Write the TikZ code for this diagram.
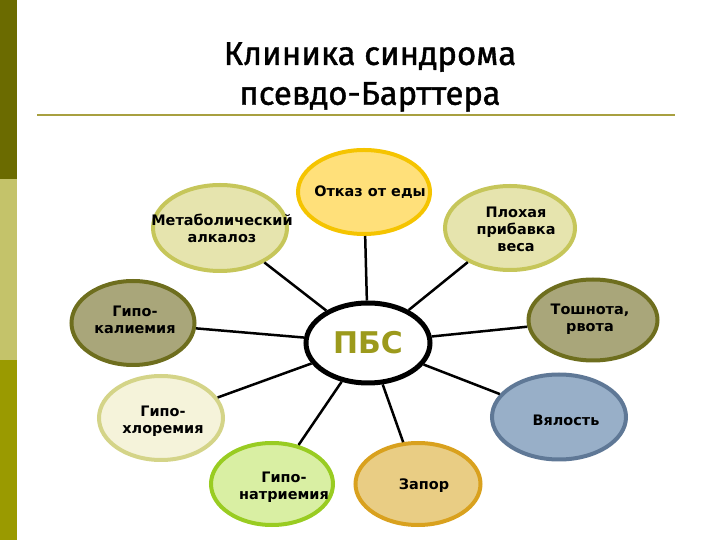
\documentclass[tikz,border=0pt]{standalone}
\usepackage{fontspec}
\setmainfont{DejaVu Sans}
\newfontfamily\titlefont[FakeBold=1.2]{Fira Sans}
\usetikzlibrary{shapes.geometric}

\definecolor{barTop}{HTML}{6B6B00}
\definecolor{barMid}{HTML}{C4C36A}
\definecolor{barLow}{HTML}{9A9A00}
\definecolor{ruleCol}{HTML}{A8A040}
\definecolor{pbsText}{HTML}{9C9A1C}
\definecolor{otkazFill}{HTML}{FFE07A}
\definecolor{otkazLine}{HTML}{F5C400}
\definecolor{khakiFill}{HTML}{E6E4AE}
\definecolor{khakiLine}{HTML}{C6C65A}
\definecolor{oliveFill}{HTML}{A9A67A}
\definecolor{oliveLine}{HTML}{6E6E1E}
\definecolor{creamFill}{HTML}{F5F3DA}
\definecolor{creamLine}{HTML}{D4D488}
\definecolor{blueFill}{HTML}{98AFC8}
\definecolor{blueLine}{HTML}{5F7896}
\definecolor{greenFill}{HTML}{D9EFA3}
\definecolor{greenLine}{HTML}{99CC22}
\definecolor{tanFill}{HTML}{E9CD84}
\definecolor{tanLine}{HTML}{D9A11E}

\begin{document}
\begin{tikzpicture}[x=10bp, y=10bp,
	bubble/.style 2 args={ellipse, fill=#1, draw=#2, line width=4bp, minimum width=128bp, minimum height=84bp, inner sep=0pt},
	bubbletext/.style={align=center, inner sep=0pt, font=\bfseries\fontsize{14.5}{17}\selectfont},
	spoke/.style={line width=2.5bp, black}]
	\useasboundingbox (0,0) rectangle (72,54);

	\fill[barTop] (0,36.1) rectangle (1.7,54);
	\fill[barMid] (0,18) rectangle (1.7,36.1);
	\fill[barLow] (0,0) rectangle (1.7,18);

	\node[align=center, font=\titlefont\fontsize{33}{40}\selectfont] (title) at (37,46.3) {Клиника синдрома\\псевдо-Барттера};
	\draw[ruleCol, line width=2bp] (3.7,42.5) -- (67.5,42.5);

	\node[ellipse, draw, fill=white, line width=5bp, minimum width=124bp, minimum height=80bp, inner sep=0pt, text=pbsText, font=\bfseries\fontsize{30}{30}\selectfont] (pbs) at (36.8,19.7) {ПБС};

	\node[bubble={otkazFill}{otkazLine}, minimum width=132bp] (otkaz) at (36.4,34.8) {};
	\node[bubble={khakiFill}{khakiLine}, minimum width=134bp, minimum height=86bp] (alkaloz) at (22.0,31.2) {};
	\node[bubble={khakiFill}{khakiLine}, minimum width=130bp] (pribavka) at (51.0,31.2) {};
	\node[bubble={oliveFill}{oliveLine}, minimum width=123bp] (kalij) at (13.3,21.7) {};
	\node[bubble={oliveFill}{oliveLine}, minimum width=129bp, minimum height=81bp] (rvota) at (59.3,22.0) {};
	\node[bubble={creamFill}{creamLine}, minimum width=124bp] (hlor) at (16.1,12.2) {};
	\node[bubble={blueFill}{blueLine}, minimum width=134bp, minimum height=85bp] (vyalost) at (55.9,12.3) {};
	\node[bubble={greenFill}{greenLine}, minimum width=122bp, minimum height=82bp] (natrij) at (27.2,5.6) {};
	\node[bubble={tanFill}{tanLine}, minimum width=125bp, minimum height=82bp] (zapor) at (41.8,5.6) {};

	\node[bubbletext, xshift=6bp] (otkaz-t) at (otkaz) {Отказ от еды};
	\node[bubbletext, xshift=2bp] (alkaloz-t) at (alkaloz) {Метаболический\\алкалоз};
	\node[bubbletext, xshift=6bp, yshift=-1bp] (pribavka-t) at (pribavka) {Плохая\\прибавка\\веса};
	\node[bubbletext, xshift=2bp, yshift=3bp] (kalij-t) at (kalij) {Гипо-\\калиемия};
	\node[bubbletext, xshift=-3bp, yshift=1bp] (rvota-t) at (rvota) {Тошнота,\\рвота};
	\node[bubbletext, xshift=2bp, yshift=-3bp] (hlor-t) at (hlor) {Гипо-\\хлоремия};
	\node[bubbletext, xshift=7bp, yshift=-3bp] (vyalost-t) at (vyalost) {Вялость};
	\node[bubbletext, xshift=12bp, yshift=-3bp] (natrij-t) at (natrij) {Гипо-\\натриемия};
	\node[bubbletext, xshift=6bp, yshift=-2bp] (zapor-t) at (zapor) {Запор};

	\draw[spoke] (pbs) -- (otkaz);
	\draw[spoke] (pbs) -- (alkaloz);
	\draw[spoke] (pbs) -- (pribavka);
	\draw[spoke] (pbs) -- (kalij);
	\draw[spoke] (pbs) -- (rvota);
	\draw[spoke] (pbs) -- (hlor);
	\draw[spoke] (pbs) -- (vyalost);
	\draw[spoke] (pbs) -- (natrij);
	\draw[spoke] (pbs) -- (zapor);
\end{tikzpicture}
\end{document}
